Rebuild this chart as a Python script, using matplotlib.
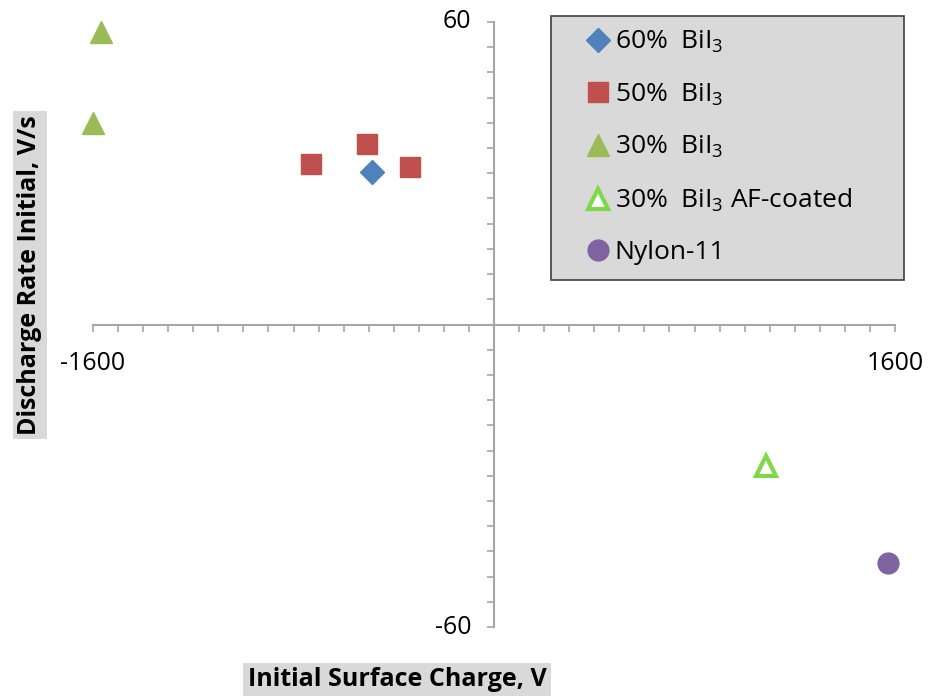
import numpy as np
import matplotlib
matplotlib.use('Agg')
from matplotlib import pyplot as plt
from matplotlib.ticker import MultipleLocator
from matplotlib.patches import Rectangle

plt.rcParams['font.family'] = ['Open Sans', 'DejaVu Sans']
plt.rcParams['mathtext.fontset'] = 'custom'
plt.rcParams['mathtext.rm'] = 'Open Sans'

# data
x60 = [-487]
y60 = [30.2]
x50 = [-730, -507, -335]
y50 = [31.9, 35.9, 31.3]
x30 = [-1568, -1600]
y30 = [58.1, 39.9]
x30af = [1085]
y30af = [-28.0]
xny = [1572]
yny = [-47.4]

labels = [r'60%  BiI$\mathregular{_3}$', r'50%  BiI$\mathregular{_3}$',
          r'30%  BiI$\mathregular{_3}$', r'30%  BiI$\mathregular{_3}$ AF-coated',
          'Nylon-11']

W, H = 933, 696
fig = plt.figure(figsize=(9.33, 6.96), dpi=100)
ax = fig.add_axes([93/W, 69/H, 802/W, 605/H])

ax.plot(x60, y60, 'D', color='#4f81bd', ms=12, ls='none', label=labels[0], clip_on=False)
ax.plot(x50, y50, 's', color='#c0504d', ms=14, ls='none', label=labels[1], clip_on=False)
ax.plot(x30, y30, '^', color='#9bbb59', ms=16, ls='none', label=labels[2], clip_on=False)
ax.plot(x30af, y30af, '^', mfc='white', mec='#7ed848', mew=3, ms=14, ls='none',
        label=labels[3], clip_on=False)
ax.plot(xny, yny, 'o', color='#8064a2', ms=15, ls='none', label=labels[4], clip_on=False)

ax.set_xlim(-1600, 1600)
ax.set_ylim(-60, 60)
for s in ['top', 'right']:
    ax.spines[s].set_visible(False)
ax.spines['left'].set_position(('data', 0))
ax.spines['bottom'].set_position(('data', 0))
for s in ['left', 'bottom']:
    ax.spines[s].set_color('#a6a6a6')
    ax.spines[s].set_linewidth(1.5)

ax.xaxis.set_major_locator(MultipleLocator(3200))
ax.xaxis.set_minor_locator(MultipleLocator(100))
ax.yaxis.set_major_locator(MultipleLocator(120))
ax.yaxis.set_minor_locator(MultipleLocator(5))
ax.tick_params(which='both', direction='out', color='#a6a6a6', width=1.2)
ax.tick_params(which='major', length=7)
ax.tick_params(which='minor', length=5)

ax.set_xticklabels([])
ax.set_yticklabels([])
ax.text(-1600, -5.2, '-1600', ha='center', va='top', fontsize=18)
ax.text(1600, -5.2, '1600', ha='center', va='top', fontsize=18)
ax.text(-90, 60, '60', ha='right', va='center', fontsize=18)
ax.text(-90, -60, '-60', ha='right', va='center', fontsize=18)

# legend box drawn by hand, entries placed inside it
box = Rectangle((551/W, 1 - 280/H), 353/W, 264/H, transform=fig.transFigure,
                facecolor='#d9d9d9', edgecolor='#404040', lw=1.2, zorder=5,
                clip_on=False)
ax.add_patch(box)
leg = ax.legend(loc='upper left', bbox_to_anchor=(583/W, 1 - 29/H),
                bbox_transform=fig.transFigure, fontsize=19,
                frameon=False, handletextpad=0.05,
                labelspacing=1.0, borderpad=0, handlelength=1.15,
                borderaxespad=0)
leg.set_zorder(6)

fig.text(397/W, 1 - 680/H, 'Initial Surface Charge, V', ha='center', va='center',
         fontsize=18, fontweight='bold',
         bbox=dict(facecolor='#d9d9d9', edgecolor='none', pad=3))
fig.text(30/W, 1 - 275/H, 'Discharge Rate Initial, V/s', ha='center', va='center',
         rotation=90, fontsize=18, fontweight='bold',
         bbox=dict(facecolor='#d9d9d9', edgecolor='none', pad=3))

fig.savefig('out.png', dpi=100)
